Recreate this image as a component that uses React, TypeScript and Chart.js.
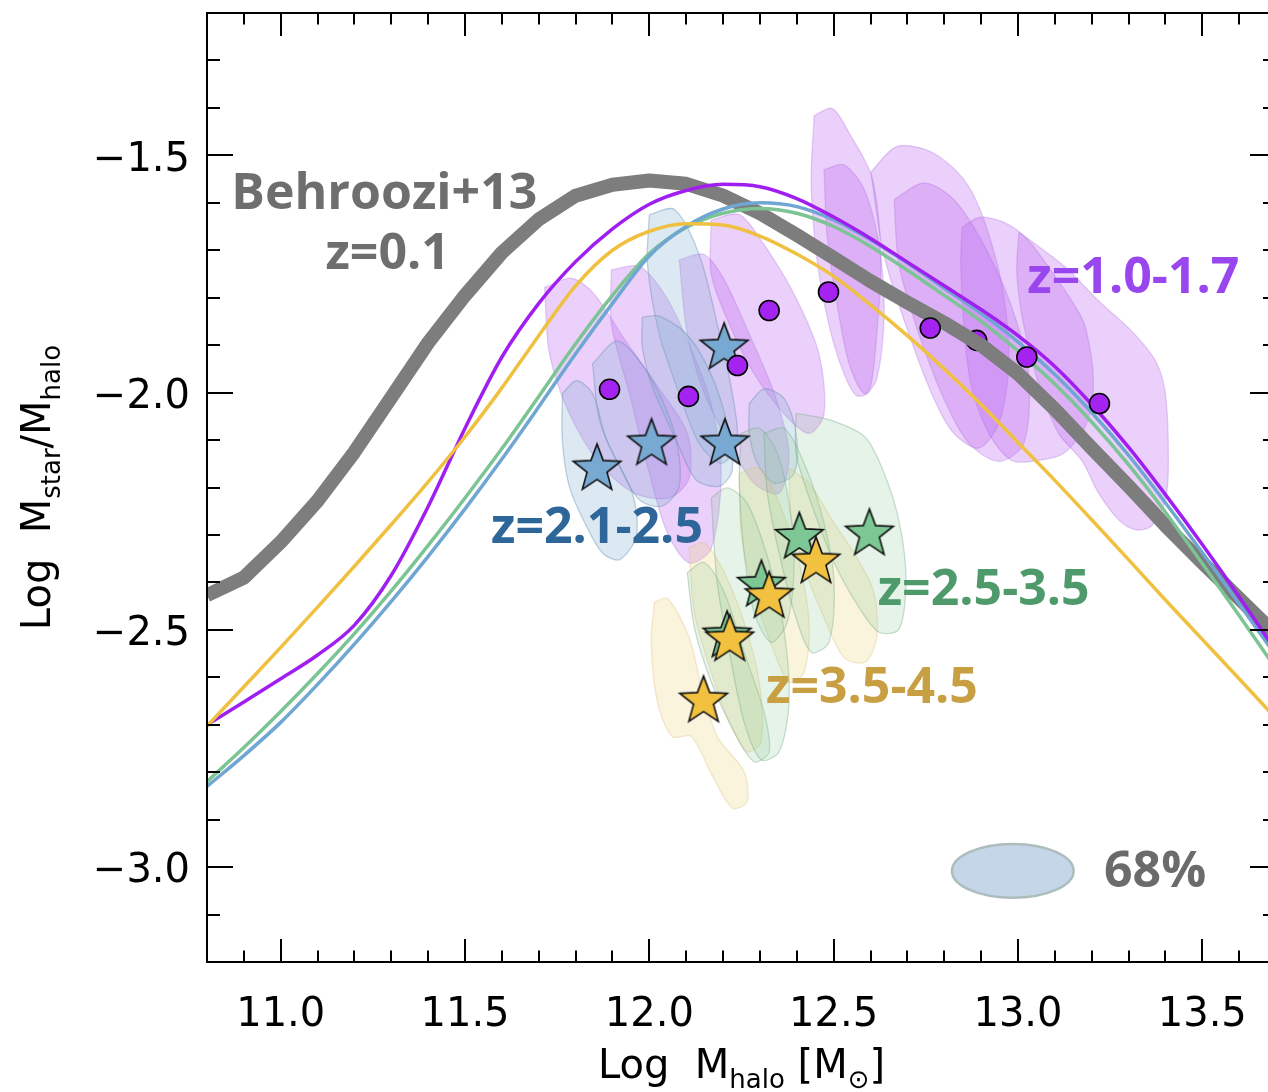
import React, { useEffect, useRef } from "react";
import { Chart, registerables } from "chart.js";

Chart.register(...registerables);

// ---------------- axes ----------------
const X_MIN = 10.8;
const X_MAX = 13.7;
const Y_MIN = -3.2;
const Y_MAX = -1.2;
const xTickValues = [11.0, 11.5, 12.0, 12.5, 13.0, 13.5];
const yTickValues = [-3.0, -2.5, -2.0, -1.5];
const MINOR_STEP = 0.1;

// ---------------- model curves ----------------
const haloMass = [10.8, 10.9, 11.0, 11.1, 11.2, 11.3, 11.4, 11.5, 11.6, 11.7, 11.8, 11.9, 12.0, 12.1, 12.2, 12.3, 12.4, 12.5, 12.6, 12.7, 12.8, 12.9, 13.0, 13.1, 13.2, 13.3, 13.4, 13.5, 13.6, 13.7];
const behroozi13 = [-2.427, -2.39, -2.315, -2.228, -2.125, -2.01, -1.895, -1.795, -1.705, -1.635, -1.585, -1.562, -1.553, -1.56, -1.585, -1.622, -1.668, -1.716, -1.765, -1.81, -1.853, -1.9, -1.96, -2.035, -2.117, -2.197, -2.28, -2.358, -2.434, -2.51];
const modelZ10to17 = [-2.7, -2.652, -2.603, -2.553, -2.49, -2.385, -2.24, -2.075, -1.925, -1.812, -1.724, -1.655, -1.603, -1.574, -1.561, -1.566, -1.591, -1.63, -1.675, -1.725, -1.775, -1.825, -1.88, -1.945, -2.025, -2.115, -2.215, -2.32, -2.43, -2.545];
const modelZ21to25 = [-2.83, -2.765, -2.695, -2.615, -2.53, -2.44, -2.345, -2.245, -2.14, -2.03, -1.918, -1.812, -1.712, -1.65, -1.613, -1.6, -1.608, -1.636, -1.678, -1.727, -1.78, -1.833, -1.893, -1.962, -2.042, -2.132, -2.232, -2.337, -2.445, -2.555];
const modelZ25to35 = [-2.82, -2.748, -2.672, -2.592, -2.508, -2.418, -2.322, -2.222, -2.118, -2.008, -1.897, -1.795, -1.707, -1.652, -1.622, -1.612, -1.622, -1.65, -1.692, -1.742, -1.795, -1.85, -1.912, -1.982, -2.062, -2.152, -2.252, -2.36, -2.47, -2.582];
const modelZ35to45 = [-2.703, -2.62, -2.537, -2.452, -2.366, -2.278, -2.188, -2.093, -1.99, -1.88, -1.775, -1.7, -1.66, -1.644, -1.647, -1.67, -1.708, -1.755, -1.815, -1.88, -1.95, -2.025, -2.105, -2.185, -2.268, -2.352, -2.437, -2.52, -2.603, -2.687];

// ---------------- measurements ----------------
const z10X = [11.892, 12.106, 12.239, 12.325, 12.486, 12.762, 13.024, 13.221];
const z10Y = [-1.993, -2.008, -1.943, -1.827, -1.788, -1.864, -1.925, -2.023];
const z10HiddenX = [12.888];
const z10HiddenY = [-1.89];
const z21X = [11.858, 12.006, 12.205, 12.203];
const z21Y = [-2.156, -2.103, -2.103, -1.901];
const z25X = [12.407, 12.597, 12.304, 12.211];
const z25Y = [-2.3, -2.293, -2.401, -2.508];
const z35X = [12.452, 12.325, 12.218, 12.147];
const z35Y = [-2.352, -2.425, -2.516, -2.645];

// ---------------- 68% contours ----------------
const contoursZ10 = [
  [[11.716, -1.778], [11.789, -1.759], [11.851, -1.793], [11.932, -1.887], [12.027, -1.992], [12.103, -2.086], [12.108, -2.18], [12.054, -2.222], [11.959, -2.212], [11.865, -2.149], [11.783, -2.044], [11.729, -1.918]],
  [[11.897, -1.741], [11.973, -1.734], [12.041, -1.793], [12.108, -1.898], [12.168, -2.024], [12.195, -2.17], [12.168, -2.328], [12.108, -2.359], [12.049, -2.296], [12.0, -2.17], [11.946, -2.002], [11.897, -1.856]],
  [[12.081, -1.72], [12.149, -1.709], [12.203, -1.762], [12.271, -1.877], [12.339, -2.002], [12.379, -2.128], [12.352, -2.212], [12.284, -2.191], [12.217, -2.107], [12.149, -2.002], [12.103, -1.877]],
  [[12.168, -1.636], [12.244, -1.625], [12.311, -1.688], [12.393, -1.793], [12.46, -1.918], [12.474, -2.045], [12.433, -2.086], [12.366, -2.045], [12.284, -1.96], [12.217, -1.856], [12.168, -1.751]],
  [[12.447, -1.416], [12.496, -1.401], [12.542, -1.453], [12.604, -1.547], [12.628, -1.709], [12.617, -1.877], [12.596, -1.998], [12.561, -2.006], [12.523, -1.95], [12.487, -1.856], [12.455, -1.72], [12.439, -1.562]],
  [[12.474, -1.53], [12.528, -1.52], [12.583, -1.572], [12.623, -1.688], [12.637, -1.834], [12.617, -1.971], [12.583, -2.002], [12.542, -1.939], [12.509, -1.813], [12.482, -1.667]],
  [[12.601, -1.535], [12.669, -1.482], [12.75, -1.488], [12.821, -1.524], [12.875, -1.577], [12.921, -1.667], [12.961, -1.792], [12.975, -1.939], [12.948, -2.065], [12.894, -2.117], [12.826, -2.086], [12.772, -2.013], [12.704, -1.876], [12.636, -1.709]],
  [[12.664, -1.593], [12.745, -1.558], [12.826, -1.593], [12.907, -1.688], [12.98, -1.813], [13.029, -1.96], [13.016, -2.107], [12.948, -2.145], [12.867, -2.107], [12.799, -2.013], [12.731, -1.876], [12.677, -1.73]],
  [[12.848, -1.652], [12.894, -1.631], [12.956, -1.639], [13.021, -1.673], [13.091, -1.744], [13.151, -1.813], [13.183, -1.862], [13.205, -1.981], [13.183, -2.071], [13.124, -2.128], [13.056, -2.143], [12.983, -2.143], [12.921, -2.086], [12.872, -1.981], [12.853, -1.855], [12.845, -1.73]],
  [[13.002, -1.662], [13.037, -1.681], [13.129, -1.736], [13.219, -1.807], [13.308, -1.87], [13.373, -1.933], [13.4, -2.002], [13.408, -2.143], [13.4, -2.226], [13.362, -2.281], [13.319, -2.289], [13.273, -2.268], [13.219, -2.212], [13.173, -2.143], [13.11, -2.086], [13.056, -1.981], [13.015, -1.855], [12.997, -1.751]],
];
const contoursZ21 = [
  [[11.764, -2.002], [11.802, -1.975], [11.846, -2.002], [11.884, -2.101], [11.954, -2.212], [11.965, -2.302], [11.919, -2.352], [11.873, -2.338], [11.829, -2.281], [11.783, -2.198], [11.764, -2.101]],
  [[11.846, -1.939], [11.911, -1.891], [11.965, -1.925], [12.027, -2.002], [12.073, -2.101], [12.081, -2.197], [12.035, -2.239], [11.973, -2.226], [11.919, -2.155], [11.865, -2.059]],
  [[11.981, -1.841], [12.027, -1.839], [12.1, -1.876], [12.163, -1.954], [12.209, -2.059], [12.225, -2.163], [12.19, -2.197], [12.127, -2.184], [12.073, -2.101], [12.008, -1.987], [11.981, -1.904]],
  [[12.0, -1.625], [12.068, -1.614], [12.135, -1.709], [12.184, -1.855], [12.225, -2.002], [12.238, -2.107], [12.195, -2.149], [12.135, -2.107], [12.081, -2.002], [12.027, -1.877], [11.995, -1.73]],
  [[12.271, -2.023], [12.311, -1.992], [12.366, -2.013], [12.398, -2.086], [12.393, -2.17], [12.339, -2.191], [12.293, -2.149], [12.271, -2.086]],
];
const contoursZ25 = [
  [[12.398, -2.044], [12.496, -2.059], [12.588, -2.096], [12.65, -2.197], [12.685, -2.302], [12.696, -2.407], [12.677, -2.499], [12.623, -2.505], [12.569, -2.453], [12.501, -2.358], [12.439, -2.233], [12.398, -2.128]],
  [[12.311, -2.086], [12.366, -2.075], [12.42, -2.149], [12.474, -2.275], [12.501, -2.4], [12.487, -2.526], [12.439, -2.547], [12.393, -2.463], [12.352, -2.338], [12.32, -2.212]],
  [[12.168, -2.222], [12.211, -2.201], [12.265, -2.233], [12.325, -2.359], [12.366, -2.505], [12.379, -2.652], [12.352, -2.757], [12.303, -2.774], [12.257, -2.694], [12.217, -2.547], [12.184, -2.4]],
  [[12.249, -2.086], [12.298, -2.075], [12.347, -2.128], [12.379, -2.233], [12.393, -2.359], [12.374, -2.484], [12.33, -2.526], [12.284, -2.463], [12.257, -2.338], [12.244, -2.191]],
  [[12.103, -2.379], [12.149, -2.358], [12.203, -2.421], [12.257, -2.547], [12.311, -2.673], [12.325, -2.757], [12.284, -2.778], [12.23, -2.715], [12.168, -2.61], [12.122, -2.495]],
];
const contoursZ35 = [
  [[12.014, -2.442], [12.049, -2.434], [12.108, -2.516], [12.141, -2.62], [12.184, -2.725], [12.257, -2.799], [12.265, -2.862], [12.225, -2.876], [12.168, -2.803], [12.114, -2.725], [12.062, -2.725], [12.022, -2.652], [12.005, -2.526]],
  [[12.108, -2.327], [12.149, -2.317], [12.203, -2.379], [12.257, -2.484], [12.298, -2.61], [12.303, -2.736], [12.265, -2.757], [12.217, -2.694], [12.168, -2.589], [12.122, -2.463]],
  [[12.244, -2.17], [12.298, -2.159], [12.352, -2.233], [12.406, -2.358], [12.433, -2.484], [12.42, -2.589], [12.379, -2.61], [12.339, -2.547], [12.284, -2.421], [12.249, -2.296]],
  [[12.379, -2.159], [12.433, -2.191], [12.501, -2.275], [12.563, -2.348], [12.609, -2.421], [12.617, -2.516], [12.585, -2.568], [12.528, -2.558], [12.474, -2.474], [12.42, -2.369], [12.385, -2.264]],
];

// ---------------- labels ----------------
const notes = [
  { text: "Behroozi+13", x: 11.281, y: -1.614, color: "#6e6e6e" },
  { text: "z=0.1", x: 11.29, y: -1.74, color: "#6e6e6e" },
  { text: "z=1.0-1.7", x: 13.313, y: -1.79, color: "#9a46ee" },
  { text: "z=2.1-2.5", x: 11.858, y: -2.316, color: "#2f6699" },
  { text: "z=2.5-3.5", x: 12.907, y: -2.447, color: "#4f9a6b" },
  { text: "z=3.5-4.5", x: 12.604, y: -2.654, color: "#c8a043" },
  { text: "68%", x: 13.372, y: -3.042, color: "#6b6b6b" },
];
const legendEllipse = { x: 12.986, y: -3.008, rx: 0.165, ry: 0.0566 };
const xTitle: [string, boolean][] = [["Log  M", false], ["halo", true], [" [M", false], ["\u2299", true], ["]", false]];
const yTitle: [string, boolean][] = [["Log  M", false], ["star", true], ["/M", false], ["halo", true]];

// ---------------- helpers ----------------
const CANVAS_W = 1300;
const CANVAS_H = 1092;
const AXIS_FONT = '"DejaVu Sans", sans-serif';
const NOTE_FONT = 'bold 50px "Open Sans", "Noto Sans", sans-serif';

const toXY = (xs: number[], ys: number[]) => xs.map((x, i) => ({ x, y: ys[i] }));
const closed = (poly: number[][]) => [...poly, poly[0]].map(([x, y]) => ({ x, y }));

function makeStar(fill: string, R = 25): HTMLCanvasElement {
  const size = Math.ceil(2 * R + 6);
  const c = document.createElement("canvas");
  c.width = size;
  c.height = size;
  const g = c.getContext("2d")!;
  const cx = size / 2;
  const cy = size / 2 + 0.0955 * R;
  g.beginPath();
  for (let k = 0; k < 10; k++) {
    const r = k % 2 === 0 ? R : R * 0.42;
    const a = -Math.PI / 2 + (k * Math.PI) / 5;
    g.lineTo(cx + r * Math.cos(a), cy + r * Math.sin(a));
  }
  g.closePath();
  g.fillStyle = fill;
  g.fill();
  g.lineWidth = 1.6;
  g.lineJoin = "miter";
  g.strokeStyle = "#111";
  g.stroke();
  return c;
}

function richWidth(ctx: CanvasRenderingContext2D, parts: [string, boolean][]) {
  let w = 0;
  for (const [t, sub] of parts) {
    ctx.font = `${sub ? 26 : 40}px ${AXIS_FONT}`;
    w += ctx.measureText(t).width;
  }
  return w;
}
function drawRich(ctx: CanvasRenderingContext2D, parts: [string, boolean][], x: number, y: number) {
  let cx = x;
  for (const [t, sub] of parts) {
    ctx.font = `${sub ? 26 : 40}px ${AXIS_FONT}`;
    ctx.fillText(t, cx, sub ? y + 10 : y);
    cx += ctx.measureText(t).width;
  }
}

const decorPlugin = {
  id: "decor",
  afterDatasetsDraw(chart: any) {
    const { ctx, chartArea: a, scales } = chart;
    const xs = scales.x;
    const ys = scales.y;
    ctx.save();
    // annotations
    ctx.font = NOTE_FONT;
    ctx.textAlign = "center";
    ctx.textBaseline = "alphabetic";
    for (const n of notes) {
      ctx.fillStyle = n.color;
      ctx.fillText(n.text, xs.getPixelForValue(n.x), ys.getPixelForValue(n.y));
    }
    // 68% ellipse
    const ex = xs.getPixelForValue(legendEllipse.x);
    const ey = ys.getPixelForValue(legendEllipse.y);
    const erx = xs.getPixelForValue(legendEllipse.x + legendEllipse.rx) - ex;
    const ery = ys.getPixelForValue(legendEllipse.y) - ys.getPixelForValue(legendEllipse.y + legendEllipse.ry);
    ctx.beginPath();
    ctx.ellipse(ex, ey, erx, ery, 0, 0, Math.PI * 2);
    ctx.fillStyle = "#c5d6e8";
    ctx.fill();
    ctx.lineWidth = 2.5;
    ctx.strokeStyle = "#adbcbc";
    ctx.stroke();

    // frame and inward ticks
    ctx.strokeStyle = "#000";
    ctx.lineWidth = 2;
    ctx.strokeRect(a.left, a.top, a.right - a.left, a.bottom - a.top);
    ctx.beginPath();
    for (let i = Math.round(X_MIN / MINOR_STEP) + 1; i < Math.round(X_MAX / MINOR_STEP); i++) {
      const px = Math.round(xs.getPixelForValue(i * MINOR_STEP));
      const len = i % 5 === 0 ? 23 : 11.5;
      ctx.moveTo(px, a.bottom);
      ctx.lineTo(px, a.bottom - len);
      ctx.moveTo(px, a.top);
      ctx.lineTo(px, a.top + len);
    }
    for (let i = Math.round(Y_MIN / MINOR_STEP) + 1; i < Math.round(Y_MAX / MINOR_STEP); i++) {
      const py = Math.round(ys.getPixelForValue(i * MINOR_STEP));
      const len = i % 5 === 0 ? 26 : 13;
      ctx.moveTo(a.left, py);
      ctx.lineTo(a.left + len, py);
      ctx.moveTo(a.right, py);
      ctx.lineTo(a.right - len, py);
    }
    ctx.stroke();

    // axis titles
    ctx.fillStyle = "#000";
    ctx.textAlign = "left";
    ctx.textBaseline = "alphabetic";
    const xw = richWidth(ctx, xTitle);
    drawRich(ctx, xTitle, (a.left + a.right) / 2 - xw / 2, a.bottom + 116);
    const yw = richWidth(ctx, yTitle);
    ctx.translate(50, (a.top + a.bottom) / 2 + yw / 2);
    ctx.rotate(-Math.PI / 2);
    drawRich(ctx, yTitle, 0, 0);
    ctx.restore();
  },
};

export default function App() {
  const ref = useRef<HTMLCanvasElement>(null);
  useEffect(() => {
    const canvas = ref.current;
    if (!canvas) return;
    const starBlue = makeStar("#78a9d2");
    const starGreen = makeStar("#7cc793");
    const starYellow = makeStar("#f2c13f");

    const blob = (poly: number[][], fill: string, stroke: string) => ({
      data: closed(poly),
      showLine: true,
      fill: "shape",
      backgroundColor: fill,
      borderColor: stroke,
      borderWidth: 1.3,
      pointRadius: 0,
      tension: 0.3,
    });
    const curve = (ys: number[], color: string, width: number, smooth: boolean) => ({
      data: toXY(haloMass, ys),
      showLine: true,
      fill: false,
      borderColor: color,
      borderWidth: width,
      pointRadius: 0,
      tension: 0,
      cubicInterpolationMode: smooth ? "monotone" : "default",
      borderJoinStyle: "round",
    });
    const stars = (xs: number[], ys: number[], img: HTMLCanvasElement) => ({
      data: toXY(xs, ys),
      showLine: false,
      pointStyle: img,
      pointRadius: 12,
    });
    const circles = (xs: number[], ys: number[]) => ({
      data: toXY(xs, ys),
      showLine: false,
      pointStyle: "circle",
      pointRadius: 10,
      backgroundColor: "#a523f0",
      borderColor: "#000",
      borderWidth: 1.6,
    });

    // first dataset is drawn on top
    const datasets: any[] = [
      stars(z35X, z35Y, starYellow),
      stars(z25X, z25Y, starGreen),
      circles(z10X, z10Y),
      stars(z21X, z21Y, starBlue),
      curve(modelZ35to45, "#f0c040", 3.5, true),
      curve(modelZ10to17, "#a01ff0", 3.5, true),
      curve(modelZ21to25, "#6fa6d2", 3.5, true),
      curve(modelZ25to35, "#7cc494", 3.5, true),
      curve(behroozi13, "#7d7d7d", 14, false),
      circles(z10HiddenX, z10HiddenY),
      ...contoursZ25.map((p) => blob(p, "rgba(140,200,150,0.22)", "rgba(110,160,130,0.35)")),
      ...contoursZ35.map((p) => blob(p, "rgba(240,210,120,0.25)", "rgba(220,190,120,0.35)")),
      ...contoursZ21.map((p) => blob(p, "rgba(130,175,210,0.28)", "rgba(100,140,180,0.4)")),
      ...contoursZ10.map((p) => blob(p, "rgba(185,100,240,0.3)", "rgba(170,110,220,0.3)")),
    ];

    const chart = new Chart(canvas, {
      type: "scatter",
      data: { datasets },
      options: {
        animation: false,
        responsive: false,
        devicePixelRatio: 1,
        events: [],
        layout: { padding: { left: 0, top: 7, right: CANVAS_W - 1276, bottom: 0 } },
        plugins: { legend: { display: false }, tooltip: { enabled: false } },
        scales: {
          x: {
            type: "linear",
            min: X_MIN,
            max: X_MAX,
            afterFit: (s: any) => {
              s.height = 130;
              s.paddingLeft = 0;
              s.paddingRight = 0;
            },
            afterBuildTicks: (s: any) => {
              s.ticks = xTickValues.map((v) => ({ value: v }));
            },
            grid: { display: false, drawTicks: false },
            border: { display: false },
            ticks: {
              autoSkip: false,
              maxRotation: 0,
              padding: 30,
              color: "#000",
              font: { family: AXIS_FONT, size: 40 },
              callback: (v: any) => Number(v).toFixed(1),
            },
          },
          y: {
            type: "linear",
            min: Y_MIN,
            max: Y_MAX,
            afterFit: (s: any) => {
              s.width = 207;
              s.paddingTop = 0;
              s.paddingBottom = 0;
            },
            afterBuildTicks: (s: any) => {
              s.ticks = yTickValues.map((v) => ({ value: v }));
            },
            grid: { display: false, drawTicks: false },
            border: { display: false },
            ticks: {
              autoSkip: false,
              padding: 17,
              labelOffset: 5,
              color: "#000",
              font: { family: AXIS_FONT, size: 40 },
              callback: (v: any) => "\u2212" + Math.abs(Number(v)).toFixed(1),
            },
          },
        },
      } as any,
      plugins: [decorPlugin],
    });
    return () => chart.destroy();
  }, []);

  return (
    <div style={{ position: "fixed", left: 0, top: 0, width: 1268, height: 1092, overflow: "hidden", background: "#fff" }}>
      <canvas ref={ref} width={CANVAS_W} height={CANVAS_H} style={{ display: "block", width: CANVAS_W, height: CANVAS_H }} />
    </div>
  );
}
